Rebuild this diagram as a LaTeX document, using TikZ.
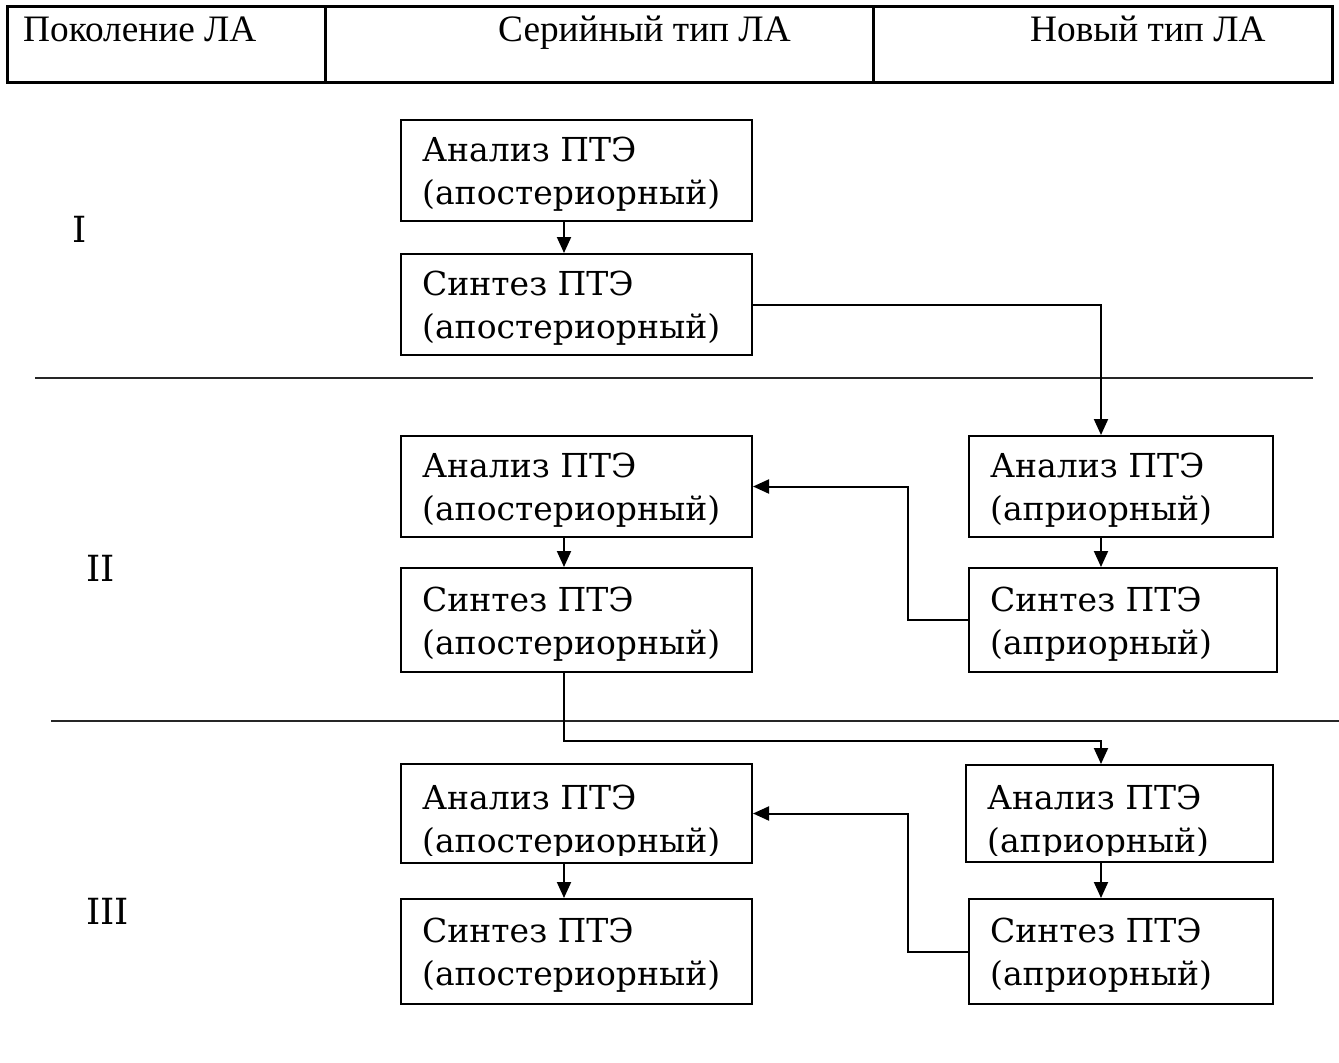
\documentclass[tikz,border=0pt]{standalone}
\usepackage{fontspec}
\setmainfont{Liberation Serif}
\newfontfamily\boxfont{DejaVu Serif}
\usetikzlibrary{arrows.meta}
\begin{document}
\begin{tikzpicture}[x=1pt,y=-1pt,
  blk/.style={draw, line width=2pt, inner sep=0pt, anchor=north west},
  btxt/.style={font=\boxfont\fontsize{33}{43}\selectfont, align=left, anchor=west, inner sep=0pt},
  hdr/.style={font=\fontsize{37.3}{42}\selectfont, inner sep=0pt, anchor=base west},
  roman/.style={font=\boxfont\fontsize{36}{40}\selectfont, inner sep=0pt, anchor=west},
  conn/.style={line width=2pt},
  arr/.style={conn, -{Triangle[length=16pt,width=14pt]}},
  sepline/.style={line width=2pt, draw=black!85},
]
\useasboundingbox (0,0) rectangle (1339,1063);

% header table
\draw[line width=3pt] (7,6) rectangle (1332,82);
\draw[line width=3pt] (325,6) -- (325,82);
\draw[line width=3pt] (873,6) -- (873,82);
\node[hdr] (h1) at (23,41) {Поколение ЛА};
\node[hdr] (h2) at (498,41) {Серийный тип ЛА};
\node[hdr] (h3) at (1030,41) {Новый тип ЛА};

% separators
\draw[sepline] (35,378) -- (1313,378);
\draw[sepline] (51,721) -- (1339,721);

% generation labels
\node[roman] (g1) at (72,229) {I};
\node[roman] (g2) at (86,568) {II};
\node[roman] (g3) at (86,911) {III};

% boxes
\node[blk, minimum width=351, minimum height=101] (a1) at (400,119) {};
\node[blk, minimum width=351, minimum height=101] (s1) at (400,253) {};
\node[blk, minimum width=351, minimum height=101] (a2) at (400,435) {};
\node[blk, minimum width=351, minimum height=104] (s2) at (400,567) {};
\node[blk, minimum width=304, minimum height=101] (a2r) at (968,435) {};
\node[blk, minimum width=308, minimum height=104] (s2r) at (968,567) {};
\node[blk, minimum width=351, minimum height=99] (a3) at (400,763) {};
\node[blk, minimum width=307, minimum height=97] (a3r) at (965,764) {};
\node[blk, minimum width=351, minimum height=105] (s3) at (400,898) {};
\node[blk, minimum width=304, minimum height=105] (s3r) at (968,898) {};

% box texts
\node[btxt, yshift=-4pt] (a1t) at ([xshift=22pt]a1.west) {Анализ ПТЭ\\(апостериорный)};
\node[btxt, yshift=-4pt] (s1t) at ([xshift=22pt]s1.west) {Синтез ПТЭ\\(апостериорный)};
\node[btxt, yshift=-4pt] (a2t) at ([xshift=22pt]a2.west) {Анализ ПТЭ\\(апостериорный)};
\node[btxt, yshift=-4pt] (s2t) at ([xshift=22pt]s2.west) {Синтез ПТЭ\\(апостериорный)};
\node[btxt, yshift=-4pt] (a2rt) at ([xshift=22pt]a2r.west) {Анализ ПТЭ\\(априорный)};
\node[btxt, yshift=-4pt] (s2rt) at ([xshift=22pt]s2r.west) {Синтез ПТЭ\\(априорный)};
\node[btxt, yshift=-4pt] (s3t) at ([xshift=22pt]s3.west) {Синтез ПТЭ\\(апостериорный)};
\node[btxt, yshift=-4pt] (s3rt) at ([xshift=22pt]s3r.west) {Синтез ПТЭ\\(априорный)};
\begin{scope}
  \clip (a3.north west) rectangle ([yshift=9pt]a3.south east);
  \node[btxt, yshift=-9pt] (a3t) at ([xshift=22pt]a3.west) {Анализ ПТЭ\\(апостериорный)};
\end{scope}
\begin{scope}
  \clip (a3r.north west) rectangle ([yshift=8pt]a3r.south east);
  \node[btxt, yshift=-9pt] (a3rt) at ([xshift=22pt]a3r.west) {Анализ ПТЭ\\(априорный)};
\end{scope}

% connectors
\draw[arr] ([xshift=-12.5pt]a1.south) -- ([xshift=-12.5pt]s1.north);
\draw[arr] (s1.east) -| ([xshift=-20pt]a2r.north);
\draw[arr] ([xshift=-12.5pt]a2.south) -- ([xshift=-12.5pt]s2.north);
\draw[arr] ([xshift=-20pt]a2r.south) coordinate (p2) -- (p2 |- s2r.north);
\draw[arr] (s2r.west) -- ++(-60,0) |- (a2.east);
\draw[arr] ([xshift=-12.5pt]s2.south) -- ++(0,68) -| ([xshift=-18.5pt]a3r.north);
\draw[arr] ([xshift=-12.5pt]a3.south) -- ([xshift=-12.5pt]s3.north);
\draw[arr] ([xshift=-18.5pt]a3r.south) coordinate (p3) -- (p3 |- s3r.north);
\draw[arr] (s3r.west) -- ++(-60,0) |- (a3.east);
\end{tikzpicture}
\end{document}
